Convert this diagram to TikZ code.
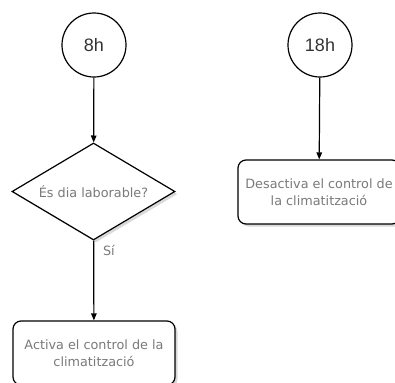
\documentclass[tikz,border=0pt]{standalone}
\usepackage{fontspec}
\setmainfont{DejaVu Sans}
\newfontfamily\timefont{Liberation Sans}
\usetikzlibrary{shapes.geometric,arrows.meta,shadows}
\definecolor{labelgray}{HTML}{7A7A7A}
\definecolor{timegray}{HTML}{333333}
\begin{document}
\begin{tikzpicture}[x=1bp,y=-1bp,
  line width=1.2bp,
  timer/.style={circle,draw,minimum size=64bp,inner sep=0pt,
    font=\timefont\fontsize{18bp}{20bp}\selectfont,text=timegray},
  question/.style={diamond,draw,fill=white,aspect=1.68,
    minimum width=163bp,minimum height=97bp,
    inner sep=0pt,font=\fontsize{12.8bp}{17bp}\selectfont,text=labelgray,
    drop shadow={shadow xshift=2.5bp,shadow yshift=-2.5bp,opacity=0.3}},
  action/.style={rectangle,draw,fill=white,rounded corners=8bp,
    minimum width=162bp,minimum height=64bp,inner sep=2bp,align=center,
    font=\fontsize{12.8bp}{17bp}\selectfont,text=labelgray,
    drop shadow={shadow xshift=2.5bp,shadow yshift=-2.5bp,opacity=0.3}},
  flow/.style={-{Triangle[length=7bp,width=5.5bp]}},
  branch/.style={font=\fontsize{12.8bp}{14bp}\selectfont,text=labelgray,inner sep=0pt}]
\useasboundingbox (0,0) rectangle (395,383);
\clip (0,0) rectangle (395,383);

% morning branch
\node[timer] (c8) at (94,45) {8h};
\node[question] (dia) at (93.5,191.5) {És dia laborable?};
\node[action] (act) at (94,353) {Activa el control de la\\climatització};
\draw[flow] (c8) -- (dia);
\draw[flow] (dia) -- (act);
\node[branch,anchor=west] (yes) at ([xshift=9bp,yshift=-10bp]dia.south) {Sí};

% evening branch
\node[timer] (c18) at (320,45) {18h};
\node[action] (des) at (319,192) {Desactiva el control de\\la climatització};
\draw[flow] (c18) -- (des);
\end{tikzpicture}
\end{document}
